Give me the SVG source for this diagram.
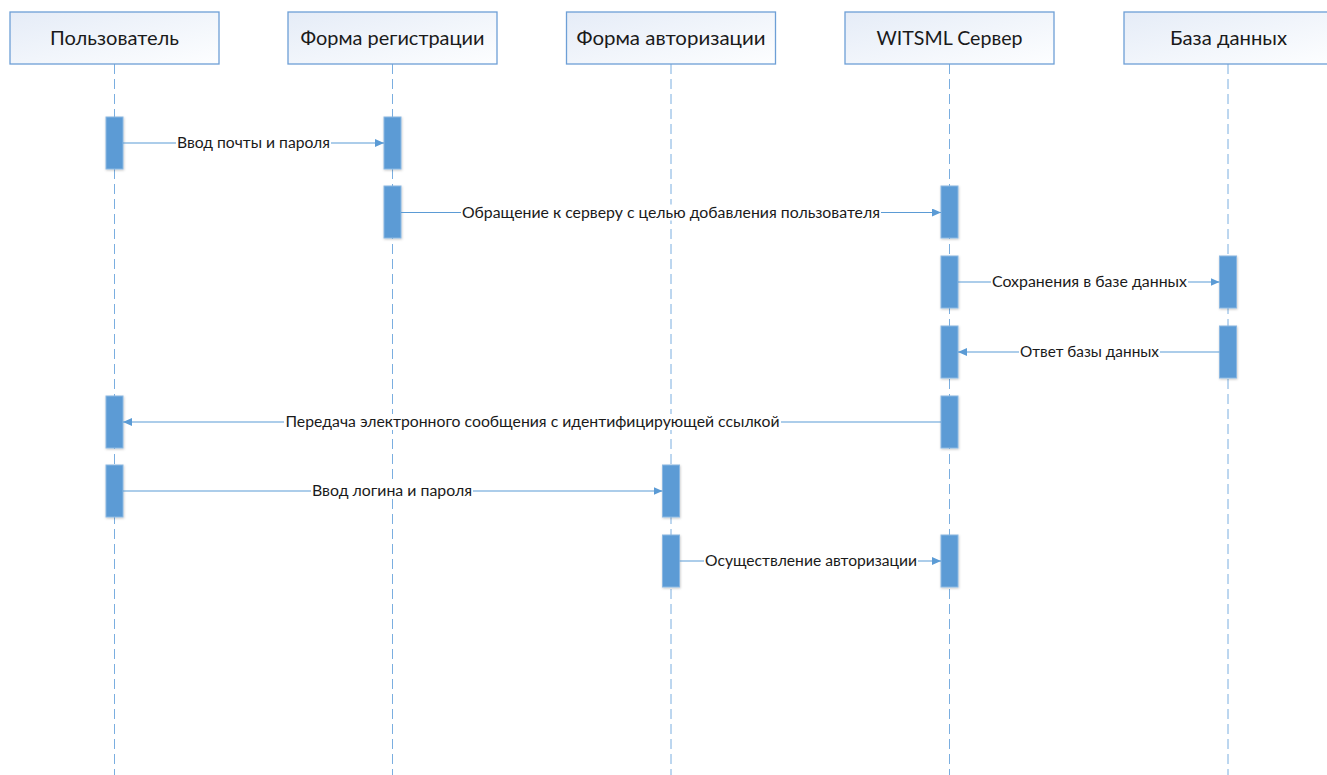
<svg xmlns="http://www.w3.org/2000/svg" width="1327" height="775" viewBox="0 0 1327 775">
  <style>
    .head { fill: url(#headFill); stroke: #6d9fd6; stroke-width: 1.3; }
    .head-text { font-family: Lato, "Liberation Sans", sans-serif; font-size: 20px; fill: #1a1a1a; text-anchor: middle; }
    .life { stroke: #7aaee0; stroke-width: 1; stroke-dasharray: 10 5; fill: none; }
    .bar { fill: #5b9bd5; stroke: #8cb8e2; stroke-width: 1; filter: url(#barShadow); }
    .msg { stroke: #5b9bd5; stroke-width: 1.2; fill: none; marker-end: url(#arrow); }
    .gap { fill: #ffffff; }
    .label { font-family: Lato, "Liberation Sans", sans-serif; font-size: 14.5px; fill: #1a1a1a; text-anchor: middle; }
  </style>
  <defs>
    <linearGradient id="headFill" x1="0" y1="0" x2="1" y2="1">
      <stop offset="0" stop-color="#e5ecf7"/>
      <stop offset="1" stop-color="#fdfeff"/>
    </linearGradient>
    <filter id="barShadow" x="-50%" y="-20%" width="200%" height="140%">
      <feDropShadow dx="0.5" dy="1" stdDeviation="1.2" flood-color="#000000" flood-opacity="0.22"/>
    </filter>
    <marker id="arrow" markerUnits="userSpaceOnUse" markerWidth="10" markerHeight="9" refX="9" refY="4" orient="auto">
      <path d="M0,0 L9,4 L0,8 Z" fill="#5b9bd5"/>
    </marker>
  </defs>

  <rect width="1327" height="775" fill="#ffffff"/>

  <!-- lifelines -->
  <g id="lifelines">
    <line class="life" x1="114.5" y1="64" x2="114.5" y2="775"/>
    <line class="life" x1="392.5" y1="64" x2="392.5" y2="775"/>
    <line class="life" x1="671" y1="64" x2="671" y2="775"/>
    <line class="life" x1="949.5" y1="64" x2="949.5" y2="775"/>
    <line class="life" x1="1228" y1="64" x2="1228" y2="775"/>
  </g>

  <!-- participants -->
  <g id="user">
    <rect class="head" x="10" y="12" width="209" height="52"/>
    <text class="head-text" x="114.5" y="45" textLength="129" lengthAdjust="spacingAndGlyphs">Пользователь</text>
    <rect class="bar" x="106" y="117" width="17" height="52"/>
    <rect class="bar" x="106" y="396" width="17" height="52"/>
    <rect class="bar" x="106" y="465" width="17" height="52"/>
  </g>
  <g id="reg-form">
    <rect class="head" x="288" y="12" width="209" height="52"/>
    <text class="head-text" x="392.5" y="45" textLength="184" lengthAdjust="spacingAndGlyphs">Форма регистрации</text>
    <rect class="bar" x="384" y="117" width="17" height="52"/>
    <rect class="bar" x="384" y="186" width="17" height="52"/>
  </g>
  <g id="auth-form">
    <rect class="head" x="566.5" y="12" width="209" height="52"/>
    <text class="head-text" x="671" y="45" textLength="189" lengthAdjust="spacingAndGlyphs">Форма авторизации</text>
    <rect class="bar" x="662.5" y="465" width="17" height="52"/>
    <rect class="bar" x="662.5" y="535" width="17" height="52"/>
  </g>
  <g id="witsml-server">
    <rect class="head" x="845" y="12" width="209" height="52"/>
    <text class="head-text" x="949.5" y="45" textLength="146" lengthAdjust="spacingAndGlyphs">WITSML Сервер</text>
    <rect class="bar" x="941" y="186" width="17" height="52"/>
    <rect class="bar" x="941" y="256" width="17" height="52"/>
    <rect class="bar" x="941" y="326" width="17" height="52"/>
    <rect class="bar" x="941" y="396" width="17" height="52"/>
    <rect class="bar" x="941" y="535" width="17" height="52"/>
  </g>
  <g id="database">
    <rect class="head" x="1124" y="12" width="209" height="52"/>
    <text class="head-text" x="1228.5" y="45" textLength="117" lengthAdjust="spacingAndGlyphs">База данных</text>
    <rect class="bar" x="1219.5" y="256" width="17" height="52"/>
    <rect class="bar" x="1219.5" y="326" width="17" height="52"/>
  </g>

  <!-- messages -->
  <g id="connectors">
    <line class="msg" x1="123" y1="143" x2="384" y2="143"/>
    <rect class="gap" x="176" y="135" width="155" height="16"/>
    <text class="label" x="253.5" y="148" textLength="153" lengthAdjust="spacingAndGlyphs">Ввод почты и пароля</text>

    <line class="msg" x1="401" y1="212.5" x2="941" y2="212.5"/>
    <rect class="gap" x="461" y="204.5" width="420" height="16"/>
    <text class="label" x="671" y="217.5" textLength="418" lengthAdjust="spacingAndGlyphs">Обращение к серверу с целью добавления пользователя</text>

    <line class="msg" x1="958" y1="282" x2="1219.5" y2="282"/>
    <rect class="gap" x="991" y="274" width="197" height="16"/>
    <text class="label" x="1089.5" y="287" textLength="195" lengthAdjust="spacingAndGlyphs">Сохранения в базе данных</text>

    <line class="msg" x1="1219.5" y1="352" x2="958" y2="352"/>
    <rect class="gap" x="1019" y="344" width="141" height="16"/>
    <text class="label" x="1089.5" y="357" textLength="139" lengthAdjust="spacingAndGlyphs">Ответ базы данных</text>

    <line class="msg" x1="941" y1="422" x2="123" y2="422"/>
    <rect class="gap" x="284" y="414" width="497" height="16"/>
    <text class="label" x="532.5" y="427" textLength="494" lengthAdjust="spacingAndGlyphs">Передача электронного сообщения с идентифицирующей ссылкой</text>

    <line class="msg" x1="123" y1="491" x2="662.5" y2="491"/>
    <rect class="gap" x="311" y="483" width="162" height="16"/>
    <text class="label" x="392" y="496" textLength="160" lengthAdjust="spacingAndGlyphs">Ввод логина и пароля</text>

    <line class="msg" x1="679.5" y1="561" x2="941" y2="561"/>
    <rect class="gap" x="704" y="553" width="214" height="16"/>
    <text class="label" x="811" y="566" textLength="212" lengthAdjust="spacingAndGlyphs">Осуществление авторизации</text>
  </g>
</svg>
